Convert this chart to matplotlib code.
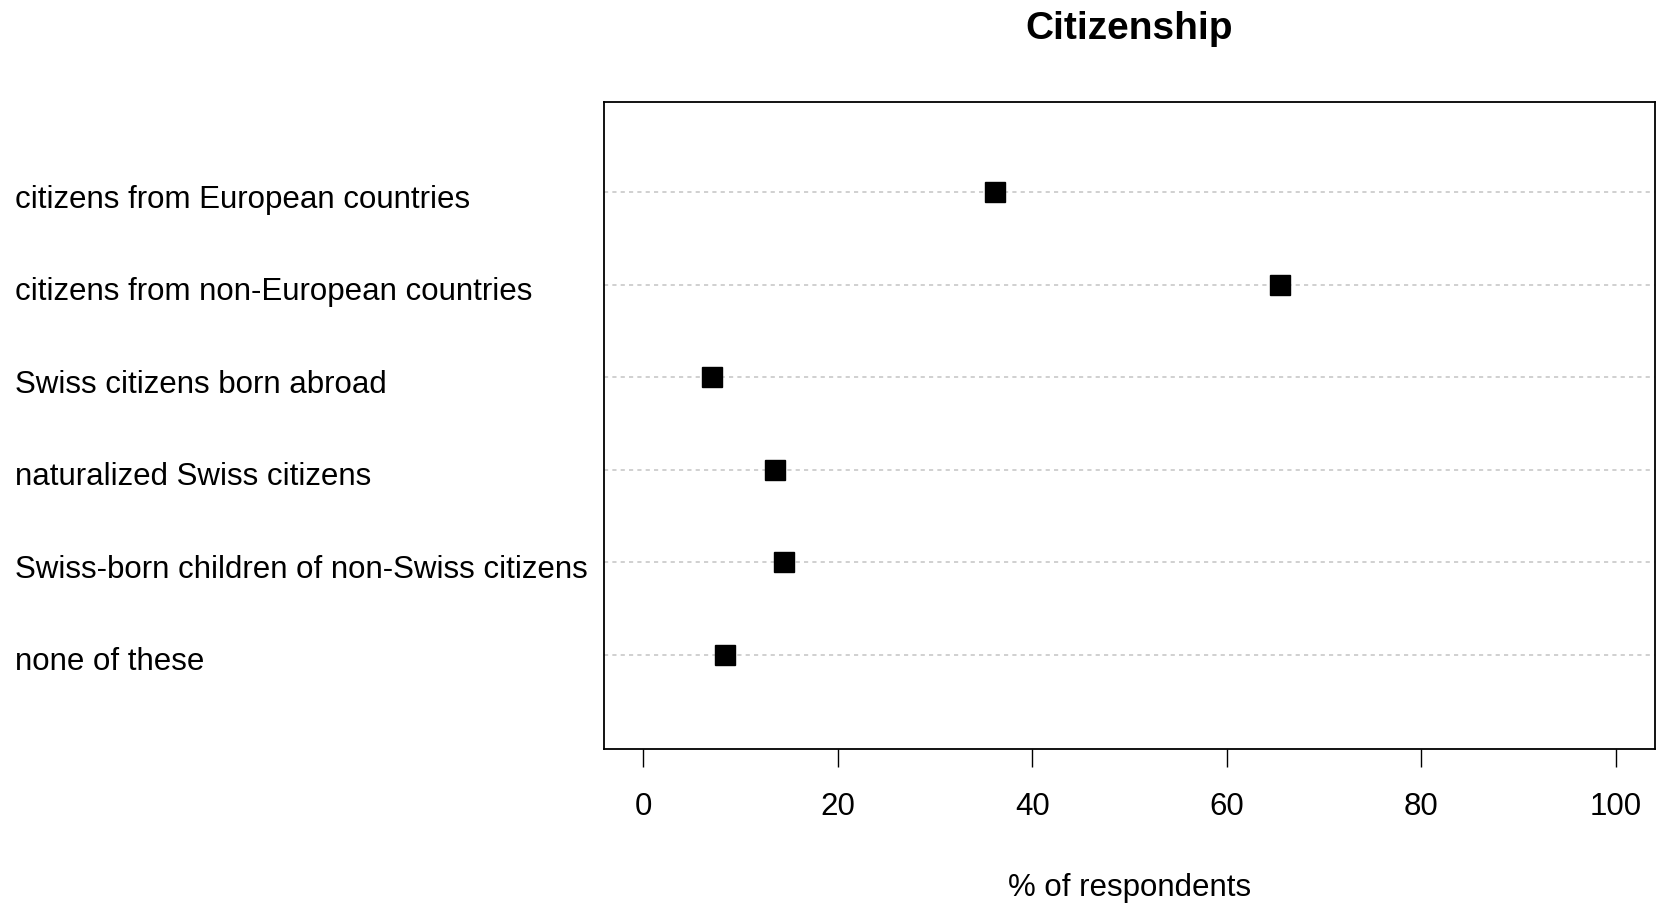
"""
Dot chart: Citizenship (% of respondents), R dotchart look.
"""
import matplotlib
matplotlib.use("Agg")
import matplotlib.pyplot as plt
import matplotlib.transforms as mtransforms

# ── Data ──────────────────────────────────────────────────────────────────────
categories = [
    "citizens from European countries",
    "citizens from non-European countries",
    "Swiss citizens born abroad",
    "naturalized Swiss citizens",
    "Swiss-born children of non-Swiss citizens",
    "none of these",
]
values = [36.2, 65.5, 7.1, 13.6, 14.5, 8.4]
x_ticks = [0, 20, 40, 60, 80, 100]

plt.rcParams["font.family"] = ["Liberation Sans", "DejaVu Sans"]
FS = 22.5

# ── Canvas ────────────────────────────────────────────────────────────────────
fig = plt.figure(figsize=(16.59, 9.05), dpi=100)
ax = fig.add_axes([0.3641, 0.1724, 0.6335, 0.7153])

n = len(categories)
ypos = list(range(n, 0, -1))   # first category on top

# dotted guide lines across the full panel
for y in ypos:
    ax.axhline(y, color="#c8c8c8", lw=1.2, dashes=(2.5, 2.5), zorder=1)

ax.plot(values, ypos, ls="none", marker="s", ms=15, color="black", zorder=3)

ax.set_xlim(-4, 104)
ax.set_ylim(-0.02, 6.98)

ax.set_xticks(x_ticks)
ax.tick_params(axis="x", length=13, width=1.0, pad=18, labelsize=FS)

ax.set_yticks(ypos, labels=categories)
ax.tick_params(axis="y", length=0, pad=424, labelsize=FS)
shift = mtransforms.ScaledTranslation(0, -4 / 100, fig.dpi_scale_trans)
for lbl in ax.get_yticklabels():
    lbl.set_horizontalalignment("left")
    lbl.set_transform(lbl.get_transform() + shift)

for sp in ax.spines.values():
    sp.set_linewidth(1.3)
    sp.set_color("black")

ax.set_xlabel("% of respondents", fontsize=FS, labelpad=37)
ax.set_title("Citizenship", fontsize=28, fontweight="bold", pad=45)

fig.savefig("out.png", dpi=100)
